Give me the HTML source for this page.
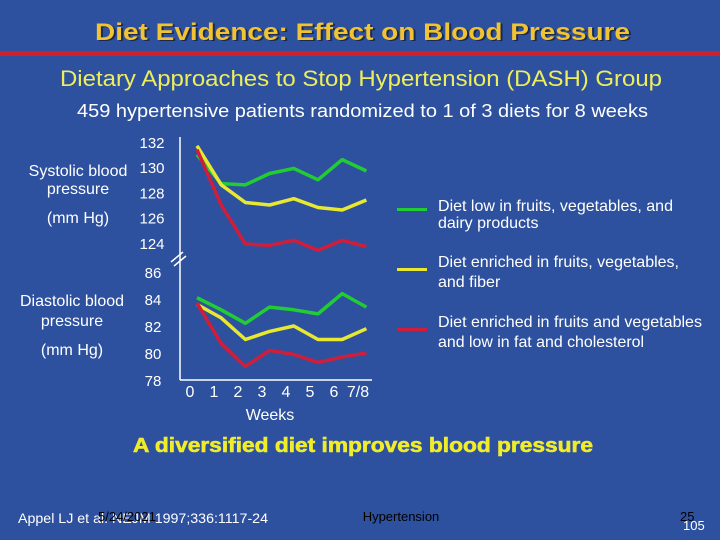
<!DOCTYPE html>
<html><head><meta charset="utf-8"><style>
body{margin:0;width:720px;height:540px;background:#2D519E;overflow:hidden;font-family:"Liberation Sans",sans-serif;}
svg{display:block}
</style></head><body>
<svg width="720" height="540" xmlns="http://www.w3.org/2000/svg">
<rect width="720" height="540" fill="#2D519E"/>
<text x="97" y="41" font-size="24" font-weight="bold" fill="#1a2a50" textLength="535" lengthAdjust="spacingAndGlyphs">Diet Evidence: Effect on Blood Pressure</text>
<text x="95" y="40" font-size="24" font-weight="bold" fill="#F1C232" textLength="535" lengthAdjust="spacingAndGlyphs">Diet Evidence: Effect on Blood Pressure</text>
<rect x="0" y="51" width="720" height="5" fill="#D0202E"/>
<text x="60" y="86" font-size="22" fill="#EDEE5E" textLength="602" lengthAdjust="spacingAndGlyphs">Dietary Approaches to Stop Hypertension (DASH) Group</text>
<text x="77" y="117" font-size="18" fill="#ffffff" textLength="571" lengthAdjust="spacingAndGlyphs">459 hypertensive patients randomized to 1 of 3 diets for 8 weeks</text>
<g font-size="16" fill="#ffffff" text-anchor="middle">
<text x="78" y="176">Systolic blood</text>
<text x="78" y="194">pressure</text>
<text x="78" y="223">(mm Hg)</text>
<text x="72" y="306">Diastolic blood</text>
<text x="72" y="326">pressure</text>
<text x="72" y="355">(mm Hg)</text>
</g>
<g id="chart"></g>
<g font-size="16" fill="#ffffff">
<rect x="397" y="208" width="30" height="3" fill="#22CC33"/>
<text x="438" y="211" textLength="235" lengthAdjust="spacingAndGlyphs">Diet low in fruits, vegetables, and</text>
<text x="438" y="228">dairy products</text>
<rect x="397" y="268" width="30" height="3" fill="#E8E830"/>
<text x="438" y="267" textLength="241" lengthAdjust="spacingAndGlyphs">Diet enriched in fruits, vegetables,</text>
<text x="438" y="287">and fiber</text>
<rect x="397" y="328" width="30" height="3" fill="#D01E3A"/>
<text x="438" y="327" textLength="264" lengthAdjust="spacingAndGlyphs">Diet enriched in fruits and vegetables</text>
<text x="438" y="347" textLength="206" lengthAdjust="spacingAndGlyphs">and low in fat and cholesterol</text>
</g>
<text x="270" y="420" text-anchor="middle" font-size="16" fill="#ffffff">Weeks</text>
<text x="133" y="452" font-size="20" font-weight="bold" fill="#F0EC2A" stroke="#F0EC2A" stroke-width="0.6" textLength="460" lengthAdjust="spacingAndGlyphs">A diversified diet improves blood pressure</text>
<text x="18" y="523" font-size="14" fill="#ffffff" textLength="250" lengthAdjust="spacingAndGlyphs">Appel LJ et al. NEJM 1997;336:1117-24</text>
<text x="98" y="521" font-size="13" fill="#000000">5/24/2021</text>
<text x="401" y="521" text-anchor="middle" font-size="13" fill="#000000">Hypertension</text>
<text x="680" y="521" font-size="13" fill="#000000">25</text>
<text x="683" y="530" font-size="13" fill="#ffffff">105</text>
</svg>
<script>
const weeks=["0","1","2","3","4","5","6","7/8"];
const sysTicks=[132,130,128,126,124];
const diaTicks=[86,84,82,80,78];
const sysLow=[131.0,128.7,128.6,129.5,129.9,129.0,130.6,129.7];
const sysFiber=[131.7,128.6,127.2,127.0,127.5,126.8,126.6,127.4];
const sysLowFat=[131.4,127.0,123.9,123.8,124.2,123.4,124.2,123.7];
const diaLow=[84.1,83.2,82.2,83.4,83.2,82.9,84.4,83.4];
const diaFiber=[83.6,82.6,81.0,81.6,82.0,81.0,81.0,81.8];
const diaLowFat=[83.7,80.7,79.0,80.2,79.9,79.3,79.7,80.0];
const NS="http://www.w3.org/2000/svg";
const g=document.getElementById('chart');
const xS=i=>197+i*24.2;
const ySys=v=>142+(132-v)*12.6;
const yDia=v=>272+(86-v)*13.5;
function mk(t,a){const e=document.createElementNS(NS,t);for(const k in a)e.setAttribute(k,a[k]);g.appendChild(e);return e;}
let e=mk('line',{x1:180,y1:137,x2:180,y2:380,stroke:'#fff','stroke-width':1.5});


e=mk('line',{x1:180,y1:380,x2:372,y2:380,stroke:'#fff','stroke-width':1.5});


e=mk('path',{d:'M171 262 L183 252 M174 266 L186 256',stroke:'#fff','stroke-width':1.5,fill:'none'});


sysTicks.forEach(v=>{const t=mk('text',{x:152,y:ySys(v)+6,'text-anchor':'middle','font-size':15,fill:'#fff'});t.textContent=v;

});
diaTicks.forEach(v=>{const t=mk('text',{x:153,y:yDia(v)+6,'text-anchor':'middle','font-size':15,fill:'#fff'});t.textContent=v;

});
weeks.forEach((w,i)=>{const t=mk('text',{x:190+i*24,y:397,'text-anchor':'middle','font-size':16,fill:'#fff'});t.textContent=w;

});
function line(vals,ys,col,name){const p=mk('polyline',{points:vals.map((v,i)=>xS(i)+','+ys(v)).join(' '),fill:'none',stroke:col,'stroke-width':3.5,'stroke-linejoin':'round'});

}
line(sysLow,ySys,'#22CC33','systolic-low-line');
line(sysFiber,ySys,'#E8E830','systolic-fiber-line');
line(sysLowFat,ySys,'#D01E3A','systolic-lowfat-line');
line(diaLow,yDia,'#22CC33','diastolic-low-line');
line(diaFiber,yDia,'#E8E830','diastolic-fiber-line');
line(diaLowFat,yDia,'#D01E3A','diastolic-lowfat-line');
</script>
</body></html>
